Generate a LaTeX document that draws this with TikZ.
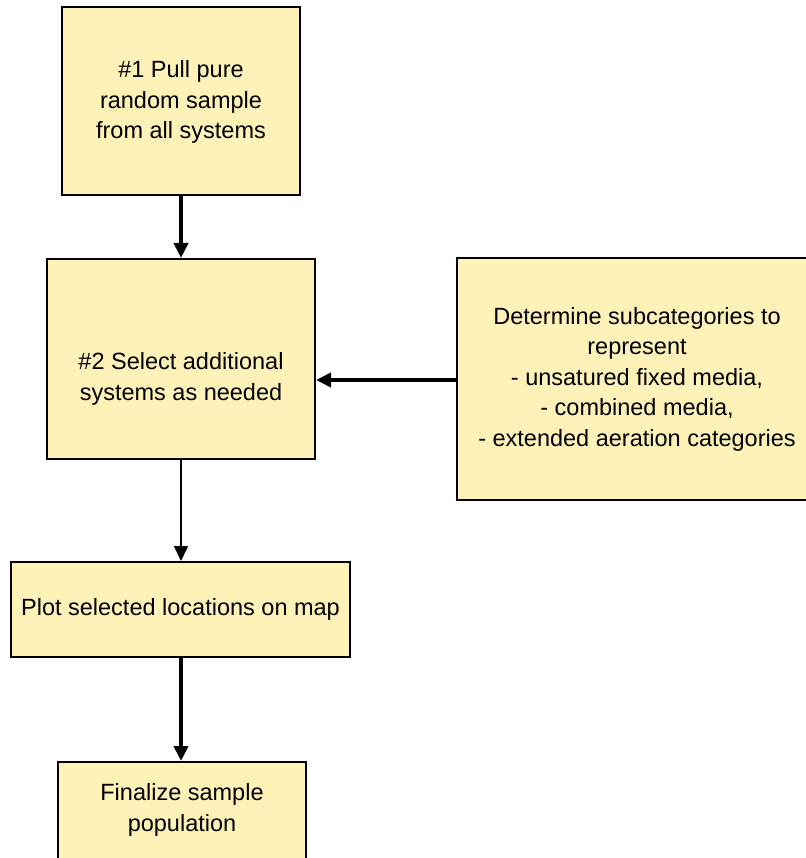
\documentclass[tikz,border=0pt]{standalone}
\usepackage{fontspec}
\setmainfont{Liberation Sans}
\usetikzlibrary{arrows.meta}
\definecolor{boxfill}{RGB}{255,242,184}

\begin{document}
\begin{tikzpicture}[x=1pt,y=1pt,
  stepbox/.style={draw, line width=2pt, fill=boxfill, inner sep=0pt},
  steptext/.style={align=center, font=\fontsize{23.5}{30.5}\selectfont},
  bigarrow/.style={line width=4pt, -{Triangle[width=14pt,length=15pt]}},
  thinarrow/.style={line width=1.5pt, -{Triangle[width=14pt,length=15pt]}}]

  % Fix the page to the size of the reference
  \useasboundingbox (0,0) rectangle (805,-858);

  % Draw the boxes of the left column
  \node[stepbox, minimum width=238, minimum height=188] (pull) at (181,-101) {};
  \node[steptext] (pulltext) at (181,-102) {\#1 Pull pure\\random sample\\from all systems};

  \node[stepbox, minimum width=268, minimum height=200] (select) at (181,-359) {};
  \node[steptext] (selecttext) at (181,-379) {\#2 Select additional\\systems as needed};

  \node[stepbox, minimum width=339, minimum height=95] (plot) at (180.5,-609.5) {};
  \node[steptext] (plottext) at (plot.center) {Plot selected locations on map};

  % bottom edge runs past the page
  \node[stepbox, minimum width=248, minimum height=100] (final) at (182,-812) {};
  \node[steptext] (finaltext) at (182,-810) {Finalize sample\\population};

  % Draw the box on the right (runs past the page edge)
  \node[stepbox, minimum width=360, minimum height=242] (subcat) at (637,-379) {};
  \node[steptext] (subcattext) at (subcat.center) {Determine subcategories to\\represent\\- unsatured fixed media,\\- combined media,\\- extended aeration categories};

  % Connect the boxes
  \draw[bigarrow] (pull.south -| 181,0) -- (select.north -| 181,0);
  \draw[thinarrow] (select.south -| 181,0) -- (plot.north -| 181,0);
  \draw[bigarrow] (plot.south -| 181,0) -- (final.north -| 181,0);
  \draw[bigarrow] (subcat.west |- 0,-380) -- (select.east |- 0,-380);

\end{tikzpicture}
\end{document}
